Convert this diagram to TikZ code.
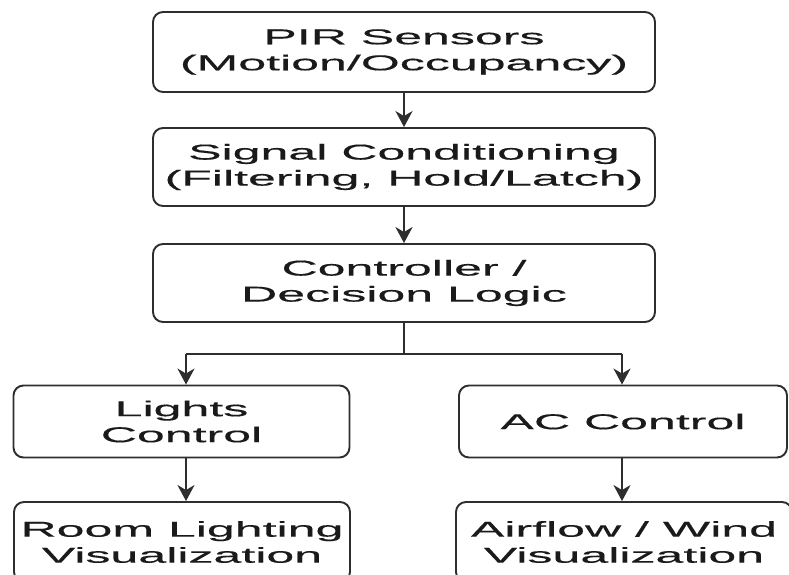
\documentclass[tikz,border=0pt]{standalone}
\usepackage{fontspec}
\setmainfont[FakeStretch=2.33,FakeBold=0.4]{Liberation Sans}
\usetikzlibrary{arrows.meta,calc}
\definecolor{linec}{HTML}{2E2E2E}
\definecolor{textc}{HTML}{1A1A1A}
\begin{document}
\begin{tikzpicture}[x=1pt,y=-1pt,
  stepbox/.style={draw=linec, line width=1.9pt, rounded corners=10pt, fill=white,
    align=center, text=textc, inner sep=0pt,
    font=\fontsize{21.5}{26}\selectfont},
  conn/.style={draw=linec, line width=1.9pt},
  arr/.style={conn, -{Stealth[length=16pt,width=17pt,inset=5pt]}}]
\useasboundingbox (0,0) rectangle (789,574);
\clip (0,0) rectangle (789,574);
\fill[white] (0,0) rectangle (789,574);

\node[stepbox, minimum width=502pt, minimum height=80pt] (pir) at (404,52)
  {PIR Sensors\\(Motion/Occupancy)};
\node[stepbox, minimum width=502pt, minimum height=78pt] (sig) at (404,167)
  {Signal Conditioning\\(Filtering, Hold/Latch)};
\node[stepbox, minimum width=502pt, minimum height=78pt] (ctl) at (404,283)
  {Controller /\\Decision Logic};
\node[stepbox, minimum width=336pt, minimum height=72pt] (lights) at (181.5,421.5)
  {Lights\\Control};
\node[stepbox, minimum width=328pt, minimum height=72pt] (ac) at (623,421.5)
  {AC Control};
\node[stepbox, minimum width=336pt, minimum height=80pt] (room) at (182,542)
  {Room Lighting\\Visualization};
\node[stepbox, minimum width=336pt, minimum height=80pt] (air) at (624,542)
  {Airflow / Wind\\Visualization};

\coordinate (j) at (404,354);
\coordinate (jl) at (186,354);
\coordinate (jr) at (622,354);

\draw[arr] (pir.south) -- (sig.north);
\draw[arr] (sig.south) -- (ctl.north);
\draw[conn] (ctl.south) -- (j);
\draw[conn] (jl) -- (jr);
\draw[arr] (jl) -- (jl |- lights.north);
\draw[arr] (jr) -- (jr |- ac.north);
\draw[arr] (jl |- lights.south) -- (jl |- room.north);
\draw[arr] (jr |- ac.south) -- (jr |- air.north);
\end{tikzpicture}
\end{document}
